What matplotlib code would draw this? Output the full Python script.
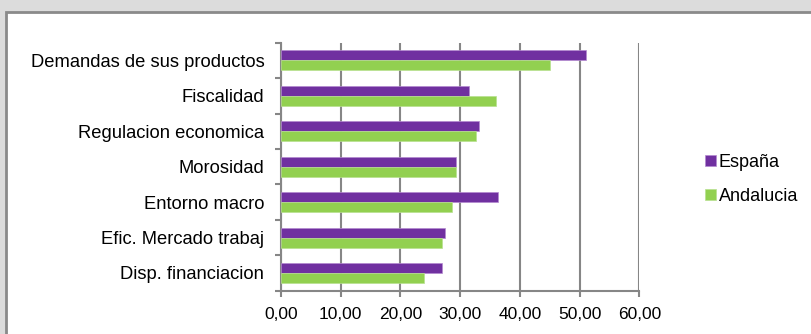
import matplotlib.pyplot as plt
import matplotlib.patches as patches
import numpy as np

plt.rcParams['font.family'] = ['Liberation Sans', 'DejaVu Sans']

categorias = ['Demandas de sus productos', 'Fiscalidad', 'Regulacion economica',
              'Morosidad', 'Entorno macro', 'Efic. Mercado trabaj', 'Disp. financiacion']
espana = [51.1, 31.4, 33.2, 29.3, 36.4, 27.4, 26.9]
andalucia = [45.0, 36.0, 32.7, 29.3, 28.7, 26.9, 23.9]
ticks = [0, 10, 20, 30, 40, 50, 60]
tick_labels = ['0,00', '10,00', '20,00', '30,00', '40,00', '50,00', '60,00']

morado = '#7030A0'
verde = '#92D050'
gris = '#868686'

fig = plt.figure(figsize=(8.12, 3.34), dpi=100)
fig.patch.set_facecolor('#dcdcdc')

# white chart panel with grey border
panel = patches.Rectangle((5.5 / 812, -0.1), 1.0, (334 - 12.5) / 334 + 0.1,
                          transform=fig.transFigure, facecolor='white',
                          edgecolor='#8a8a8a', linewidth=2, zorder=-10)
fig.add_artist(panel)

ax = fig.add_axes([281 / 812, 1 - 290.7 / 334, (639.3 - 281) / 812, (290.7 - 42.7) / 334])
ax.set_facecolor('none')
ax.set_zorder(5)

n = len(categorias)
y = np.arange(n)[::-1]
h = 0.283
ax.barh(y + h / 2, espana, height=h, color=morado, edgecolor='#b48ad0', linewidth=0.5, label='España', zorder=3)
ax.barh(y - h / 2, andalucia, height=h, color=verde, edgecolor='#b8e090', linewidth=0.5, label='Andalucia', zorder=3)

ax.set_xlim(0, 60)
ax.set_ylim(-0.5, n - 0.5)
ax.set_xticks(ticks)
ax.set_xticklabels(tick_labels, fontsize=12.5)
ax.set_yticks(y)
ax.set_yticklabels(categorias, fontsize=13.2)
ax.set_yticks(np.arange(n + 1) - 0.5, minor=True)

ax.grid(axis='x', color=gris, linewidth=1.5, zorder=1)
for s in ['top', 'right']:
    ax.spines[s].set_visible(False)
for s in ['left', 'bottom']:
    ax.spines[s].set_color(gris)
    ax.spines[s].set_linewidth(1.5)

ax.tick_params(axis='y', which='major', length=0, pad=12)
ax.tick_params(axis='y', which='minor', length=4, width=1.5, color=gris)
ax.tick_params(axis='x', length=4, width=1.5, color=gris, pad=8)

leg = ax.legend(loc='center left', bbox_to_anchor=(696 / 812, 1 - 179.5 / 334),
                bbox_transform=fig.transFigure, frameon=False,
                fontsize=13, handlelength=0.6, handleheight=0.6, handletextpad=0.15,
                labelspacing=0.95, borderpad=0)

fig.savefig('out.png', dpi=100, facecolor=fig.get_facecolor())
